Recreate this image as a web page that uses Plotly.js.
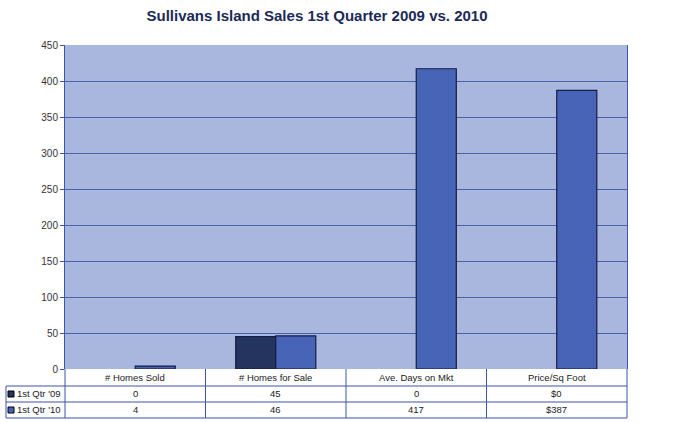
<!DOCTYPE html>
<html><head><meta charset="utf-8">
<script src="https://cdn.plot.ly/plotly-3.0.1.min.js"></script>
<style>html,body{margin:0;padding:0;background:#fff}#c{width:675px;height:422px}</style>
</head><body><div id="c"></div>
<script>
const categories = ["# Homes Sold", "# Homes for Sale", "Ave. Days on Mkt", "Price/Sq Foot"];
const seriesNames = ["1st Qtr '09", "1st Qtr '10"];
const values09 = [0, 45, 0, 0];
const values10 = [4, 46, 417, 387];
const yTicks = [0, 50, 100, 150, 200, 250, 300, 350, 400, 450];
const colors = ["#25335f", "#4764b6"];

const W = 675, H = 422, mL = 65, mR = 48, mT = 45, mB = 53;
const plotW = W - mL - mR, plotH = H - mT - mB;
const py = p => (mT + plotH - p) / plotH; // pixel y -> paper y
const px = p => (p - mL) / plotW;

const fmt = (v, i) => (i === 3 ? "$" : "") + v;

const traces = [values09, values10].map((vals, k) => ({
  type: "bar", name: seriesNames[k], x: categories, y: vals,
  marker: {color: colors[k], line: {color: "#131d45", width: vals.map(v => v ? 1.2 : 0)}},
  hoverinfo: "none"
}));

const lineC = "#3f55a8";
const shapes = [];
const hl = (y, x0, x1) => shapes.push({type: "line", xref: "paper", yref: "paper", x0, x1, y0: y, y1: y, line: {color: lineC, width: 1}});
const vl = (x, y0, y1) => shapes.push({type: "line", xref: "paper", yref: "paper", x0: x, x1: x, y0, y1, line: {color: lineC, width: 1}});
const yH = py(386), yR1 = py(402), yR2 = py(418), xL = px(6);
hl(yH, xL, 1); hl(yR1, xL, 1); hl(yR2, xL, 1);
vl(xL, yH, yR2);
for (let i = 0; i <= categories.length; i++) vl(i / categories.length, 0, yR2);

const annotations = [];
const tf = {family: "Liberation Sans, Arial, sans-serif", size: 9.5, color: "#222"};
categories.forEach((c, i) => {
  annotations.push({xref: "x", yref: "paper", x: c, y: (0 + yH) / 2, text: c, showarrow: false, font: tf, yanchor: "middle"});
  annotations.push({xref: "x", yref: "paper", x: c, y: (yH + yR1) / 2, text: fmt(values09[i], i), showarrow: false, font: tf, yanchor: "middle"});
  annotations.push({xref: "x", yref: "paper", x: c, y: (yR1 + yR2) / 2, text: fmt(values10[i], i), showarrow: false, font: tf, yanchor: "middle"});
});
const rowsY = [(yH + yR1) / 2, (yR1 + yR2) / 2];
seriesNames.forEach((n, k) => {
  annotations.push({xref: "paper", yref: "paper", x: px(15), y: rowsY[k], text: n, showarrow: false, font: tf, xanchor: "left", yanchor: "middle"});
  const cy = mT + plotH - rowsY[k] * plotH;
  shapes.push({type: "rect", xref: "paper", yref: "paper", x0: px(8), x1: px(14), y0: py(cy + 3), y1: py(cy - 3), fillcolor: colors[k], line: {color: "#000", width: 1}});
});

const layout = {
  width: W, height: H,
  margin: {l: mL, r: mR, t: mT, b: mB},
  paper_bgcolor: "#fff", plot_bgcolor: "#a9b6de",
  title: {text: "<b>Sullivans Island Sales 1st Quarter 2009 vs. 2010</b>", font: {family: "Liberation Sans, Arial, sans-serif", size: 15, color: "#1c2a58"}, x: 317 / W, xanchor: "center", y: 1 - 16 / H, yanchor: "middle"},
  showlegend: false,
  barmode: "group", bargap: 0.43, bargroupgap: 0,
  xaxis: {showticklabels: false, ticks: "", showgrid: false, showline: false, zeroline: false, fixedrange: true},
  yaxis: {range: [0, 450], tickvals: yTicks, ticktext: yTicks.map(String), ticks: "outside", ticklen: 4, tickcolor: lineC,
    showline: true, linecolor: lineC, linewidth: 1, mirror: true, gridcolor: "#4b61ac", gridwidth: 1, zeroline: false,
    tickfont: {family: "Liberation Sans, Arial, sans-serif", size: 10, color: "#333"}},
  shapes, annotations
};
Plotly.newPlot("c", traces, layout, {displayModeBar: false, staticPlot: true});
</script></body></html>
